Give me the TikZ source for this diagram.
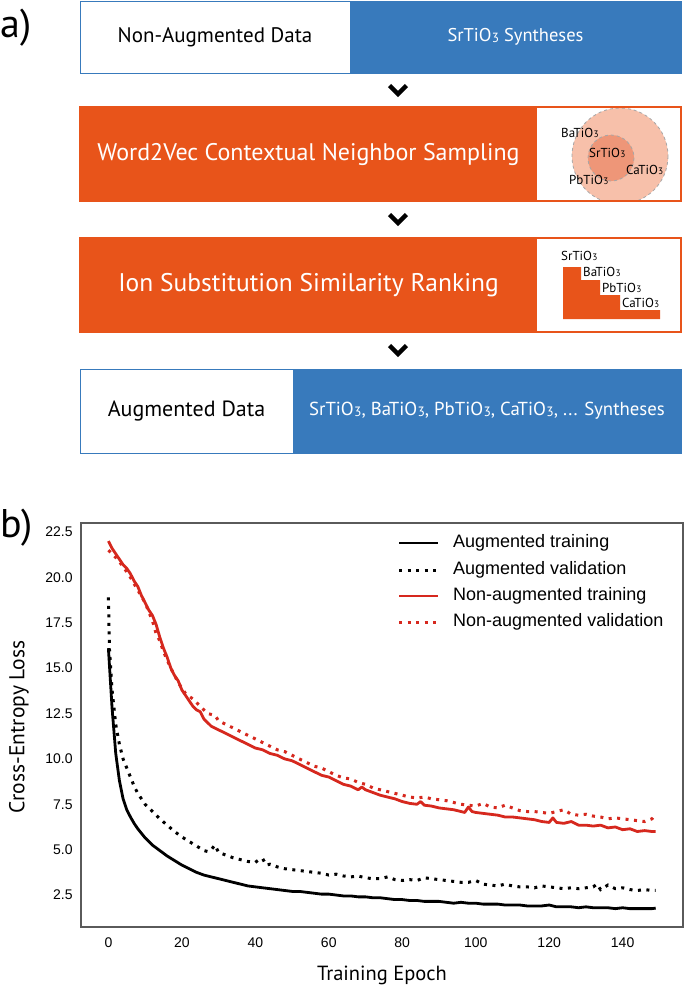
\documentclass[tikz,border=0pt]{standalone}
\usepackage{fontspec}
\setmainfont{PT Sans}
\newfontfamily\plotfont{Liberation Sans}
\definecolor{boxblue}{RGB}{56,122,188}
\definecolor{boxorange}{RGB}{232,84,26}
\definecolor{circout}{RGB}{247,192,170}
\definecolor{circin}{RGB}{238,150,120}
\definecolor{plotred}{RGB}{214,40,30}
\definecolor{framegray}{RGB}{90,90,90}
\newcommand{\mytio}[1]{#1TiO\kern0.02em\raisebox{-0.1ex}{\scalebox{0.72}{3}}}
\newcommand{\fs}[1]{\fontsize{#1pt}{#1pt}\selectfont}
\begin{document}
\begin{tikzpicture}[x=1pt,y=-1pt,
  boxpart/.style={anchor=north west,inner sep=0pt,outer sep=0pt},
  chev/.style={line width=4.5pt,miter limit=10},
  minilab/.style={inner sep=0pt,anchor=west,font=\fs{13}},
  solidcurve/.style={line width=2.8pt,line join=round},
  dotcurve/.style={line width=3pt,dash pattern=on 3pt off 5.5pt},
  ticklab/.style={font=\plotfont\fs{14}},
  leglab/.style={font=\plotfont\fs{18},anchor=west,inner sep=0pt}]
\useasboundingbox (0,0) rectangle (685,986);
\fill[white] (0,0) rectangle (685,986);
% panel labels
\node[anchor=west,inner sep=0pt,font=\fs{40}] (la) at (0,28) {a)};
\node[anchor=west,inner sep=0pt,font=\fs{40}] (lb) at (0,528) {b)};
% top box
\node[boxpart,fill=white,minimum width=270pt,minimum height=72pt,font=\fs{21}] (topL) at (80,1) {Non-Augmented Data};
\node[boxpart,fill=boxblue,minimum width=331pt,minimum height=72pt,font=\fs{18.5},text=white] (topR) at (350,1) {\mytio{Sr} Syntheses};
\draw[boxblue,line width=1pt] (topL.north west) rectangle (topR.south east);
% word2vec box
\node[boxpart,fill=boxorange,minimum width=457pt,minimum height=94pt,font=\fs{24},text=white] (w2v) at (80,107) {Word2Vec Contextual Neighbor Sampling};
\node[boxpart,fill=white,minimum width=144pt,minimum height=94pt] (w2vI) at (537,107) {};
\begin{scope}
\clip (w2vI.north west) rectangle (w2vI.south east);
\fill[circout] (620,156) circle (48);
\draw[gray!70,dashed,line width=0.8pt] (620,156) circle (48);
\fill[circin] (611,158) circle (23);
\draw[gray!70,dashed,line width=0.8pt] (611,158) circle (23);
\end{scope}
\draw[boxorange,line width=1.2pt] (w2v.north west) rectangle (w2vI.south east);
\node[minilab] (c1ba) at (561,133) {\mytio{Ba}};
\node[minilab] (c1sr) at (589,153) {\mytio{Sr}};
\node[minilab] (c1ca) at (626,170) {\mytio{Ca}};
\node[minilab] (c1pb) at (569,180) {\mytio{Pb}};
% ion box
\node[boxpart,fill=boxorange,minimum width=457pt,minimum height=94pt,font=\fs{25.5},text=white] (ion) at (80,238) {Ion Substitution Similarity Ranking};
\node[boxpart,fill=white,minimum width=144pt,minimum height=94pt] (ionI) at (537,238) {};
\draw[boxorange,line width=1.2pt] (ion.north west) rectangle (ionI.south east);
\fill[boxorange] (563,267) -- (581,267) -- (581,280) -- (600,280) -- (600,295) -- (620,295) -- (620,310) -- (660,310) -- (660,319) -- (563,319) -- cycle;
\node[minilab] (s1) at (561,256) {\mytio{Sr}};
\node[minilab] (s2) at (583,272) {\mytio{Ba}};
\node[minilab] (s3) at (602,288) {\mytio{Pb}};
\node[minilab] (s4) at (622,303) {\mytio{Ca}};
% augmented box
\node[boxpart,fill=white,minimum width=213pt,minimum height=84pt,font=\fs{22}] (augL) at (80,369) {Augmented Data};
\node[boxpart,fill=boxblue,minimum width=388pt,minimum height=84pt,font=\fs{18.8},text=white] (augR) at (293,369) {\mytio{Sr}, \mytio{Ba}, \mytio{Pb}, \mytio{Ca}, ... Syntheses};
\draw[boxblue,line width=1pt] (augL.north west) rectangle (augR.south east);
% chevrons
\coordinate (ch1) at (398,90);
\coordinate (ch2) at (398,219);
\coordinate (ch3) at (398,350);
\foreach \c in {ch1,ch2,ch3}{
  \draw[chev] ([shift={(-8.5,-4.5)}]\c) -- ([shift={(0,4)}]\c) -- ([shift={(8.5,-4.5)}]\c);
}
% plot frame
\draw[framegray,line width=1.3pt] (81,523) rectangle (683,927);
\node[font=\fs{21.5},rotate=90] (ylab) at (19,727) {Cross-Entropy Loss};
\node[font=\fs{20.5}] (xlab) at (382,975) {Training Epoch};
\begin{scope}[shift={(108.4pt,-940.4pt)},x=3.673pt,y=18.15pt]
\foreach \v/\t in {22.5/22.5,20/20.0,17.5/17.5,15/15.0,12.5/12.5,10/10.0,7.5/7.5,5/5.0,2.5/2.5}{
  \node[ticklab,anchor=east,inner sep=0pt] at (-9.7,\v) {\t};
}
\foreach \e in {0,20,40,60,80,100,120,140}{
  \node[ticklab,inner sep=0pt] at (\e,-0.15) {\e};
}
% red dotted
\draw[plotred,dotcurve] plot coordinates {(0,21.5) (2,21.1) (4,20.6) (6,20.0) (8,19.3) (10,18.6) (12,17.6) (13,16.9) (14,16.5) (15,15.9) (17,15.0) (19,14.2) (21,13.6) (23,13.3) (25,12.9) (27,12.5) (29,12.4) (30,12.1) (32,11.9) (34,11.7) (36,11.5) (38,11.3) (40,11.1) (42,10.9) (44,10.7) (46,10.5) (48,10.4) (50,10.2) (52,10.0) (54,9.8) (56,9.6) (58,9.5) (60,9.3) (62,9.1) (64,8.95) (66,8.9) (68,8.7) (70,8.6) (72,8.4) (74,8.3) (76,8.2) (78,8.1) (80,8.0) (82,7.9) (84,7.85) (86,7.9) (88,7.8) (90,7.75) (92,7.7) (94,7.6) (96,7.5) (98,7.45) (100,7.4) (102,7.55) (104,7.35) (106,7.3) (108,7.45) (110,7.3) (112,7.15) (114,7.1) (116,7.1) (118,7.05) (120,7.0) (122,7.1) (124,7.2) (126,6.95) (128,6.9) (130,6.95) (132,6.85) (134,6.8) (136,6.7) (138,6.75) (140,6.7) (142,6.65) (144,6.6) (146,6.55) (148,6.7) (149,6.95)};
% red solid
\draw[plotred,solidcurve] plot coordinates {(0,22.0) (1,21.6) (2,21.3) (3,21.0) (4,20.7) (5,20.5) (6,20.2) (7,19.8) (8,19.5) (9,19.0) (10,18.6) (11,18.2) (12,17.9) (13,17.4) (14,16.7) (15,16.1) (16,15.6) (17,15.0) (18,14.6) (19,14.3) (20,13.8) (21,13.5) (22,13.2) (23,12.9) (24,12.7) (25,12.6) (26,12.2) (27,12.0) (28,11.8) (30,11.6) (32,11.4) (34,11.2) (36,11.0) (38,10.8) (40,10.6) (42,10.5) (44,10.3) (46,10.2) (48,10.0) (50,9.9) (52,9.7) (54,9.5) (56,9.3) (58,9.1) (60,9.0) (62,8.8) (64,8.6) (66,8.5) (68,8.3) (69,8.45) (70,8.3) (72,8.15) (74,8.0) (76,7.9) (78,7.8) (80,7.65) (82,7.55) (84,7.5) (85,7.65) (86,7.45) (88,7.4) (90,7.3) (92,7.25) (94,7.2) (96,7.1) (97,7.05) (98,7.35) (99,7.1) (100,7.05) (102,7.0) (104,6.95) (106,6.9) (108,6.8) (110,6.8) (112,6.75) (114,6.7) (116,6.65) (118,6.55) (120,6.5) (121,6.75) (122,6.5) (124,6.45) (126,6.55) (128,6.35) (130,6.35) (132,6.3) (134,6.35) (136,6.2) (138,6.25) (140,6.1) (142,6.15) (144,6.0) (146,6.05) (148,6.0) (149,6.0)};
% black dotted
\draw[black,dotcurve] plot coordinates {(0,18.9) (0.3,16.0) (1,13.8) (2,11.9) (3,10.8) (4,10.0) (5,9.5) (6,9.0) (7,8.5) (8,8.1) (9,7.8) (10,7.5) (12,7.1) (14,6.7) (16,6.35) (18,6.0) (20,5.7) (22,5.45) (24,5.2) (26,4.95) (27,4.9) (28,5.0) (29,5.25) (30,4.85) (32,4.7) (34,4.55) (36,4.45) (38,4.35) (40,4.3) (41,4.45) (42,4.5) (43,4.15) (44,4.2) (46,4.05) (48,3.95) (50,3.9) (52,3.85) (54,3.8) (56,3.75) (58,3.7) (60,3.6) (62,3.65) (64,3.55) (66,3.5) (68,3.55) (70,3.45) (72,3.4) (74,3.4) (76,3.5) (78,3.35) (80,3.3) (82,3.35) (84,3.3) (86,3.45) (88,3.4) (90,3.35) (92,3.3) (94,3.25) (96,3.2) (98,3.2) (100,3.3) (102,3.1) (104,3.05) (106,3.0) (108,3.1) (110,3.0) (112,2.95) (114,2.95) (116,2.9) (118,3.0) (120,2.95) (122,2.9) (124,2.85) (126,2.9) (128,2.85) (130,2.9) (132,2.95) (133,3.1) (134,2.8) (136,3.05) (138,2.85) (140,2.9) (142,2.8) (144,2.75) (146,2.8) (148,2.75) (149,2.75)};
% black solid
\draw[black,solidcurve] plot coordinates {(0,16.1) (1,12.8) (2,10.3) (3,8.8) (4,7.8) (5,7.2) (6,6.8) (7,6.45) (8,6.15) (9,5.9) (10,5.65) (12,5.25) (14,4.95) (16,4.65) (18,4.4) (20,4.15) (22,3.95) (24,3.75) (26,3.6) (28,3.5) (30,3.4) (32,3.3) (34,3.2) (36,3.1) (38,3.0) (40,2.95) (42,2.9) (44,2.85) (46,2.8) (48,2.75) (50,2.7) (52,2.7) (54,2.65) (56,2.6) (58,2.55) (60,2.55) (62,2.5) (64,2.45) (66,2.45) (68,2.4) (70,2.4) (72,2.35) (74,2.35) (76,2.3) (78,2.25) (80,2.25) (82,2.2) (84,2.2) (86,2.15) (88,2.15) (90,2.15) (92,2.1) (94,2.05) (96,2.1) (98,2.05) (100,2.05) (102,2.0) (104,2.0) (106,2.0) (108,1.95) (110,1.95) (112,1.95) (114,1.9) (116,1.9) (118,1.9) (120,1.95) (122,1.85) (124,1.85) (126,1.85) (128,1.8) (130,1.85) (132,1.8) (134,1.8) (136,1.8) (138,1.75) (140,1.8) (142,1.75) (144,1.75) (146,1.75) (148,1.75) (149,1.78)};
\end{scope}
% legend
\coordinate (lg1a) at (399,543); \coordinate (lg1b) at (438,543);
\coordinate (lg2a) at (399,570); \coordinate (lg2b) at (438,570);
\coordinate (lg3a) at (399,596); \coordinate (lg3b) at (438,596);
\coordinate (lg4a) at (399,622); \coordinate (lg4b) at (438,622);
\draw[black,solidcurve] (lg1a) -- (lg1b);
\draw[black,dotcurve] (lg2a) -- (lg2b);
\draw[plotred,solidcurve] (lg3a) -- (lg3b);
\draw[plotred,dotcurve] (lg4a) -- (lg4b);
\node[leglab] (t1) at (453,543) {Augmented training};
\node[leglab] (t2) at (453,570) {Augmented validation};
\node[leglab] (t3) at (453,596) {Non-augmented training};
\node[leglab] (t4) at (453,622) {Non-augmented validation};
\end{tikzpicture}
\end{document}
